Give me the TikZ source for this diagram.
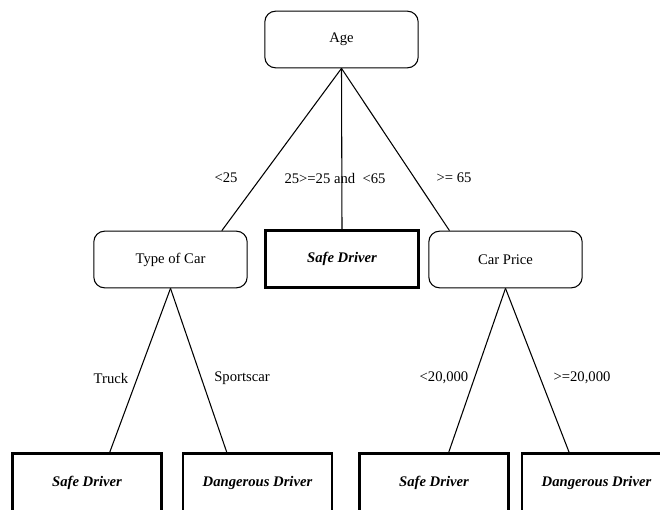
\documentclass[tikz,border=0pt]{standalone}
\usepackage{fontspec}
\setmainfont{Liberation Serif}
\usepackage{tikz}
\usetikzlibrary{positioning}

\begin{document}
\begin{tikzpicture}[x=0.75pt, y=-0.75pt, font=\fontsize{11}{13}\selectfont,
    decision/.style={draw, rounded corners=8pt, line width=0.8pt,
      minimum width=115pt, minimum height=42.5pt, inner sep=0pt},
    leaf/.style={draw, line width=1.8pt, minimum width=112pt,
      minimum height=44pt, inner sep=0pt,
      font=\fontsize{11}{13}\selectfont\bfseries\itshape},
    cond/.style={inner sep=0pt},
    branch/.style={line width=0.8pt}]
  \useasboundingbox (0,0) rectangle (660,510);
  \clip (0,0) rectangle (660,510);

  % decisions
  \node[decision] (age) at (341.5,39.5) {Age};
  \node[decision] (cartype) at (170.5,259.5) {Type of Car};
  \node[leaf, minimum width=115pt, minimum height=42.5pt] (midsafe) at (342,259) {Safe Driver};
  \node[decision] (carprice) at (505.5,259.5) {Car Price};

  % leaves
  \node[leaf] (safeA) at (87,483) {Safe Driver};
  \node[leaf] (dangerA) at (257.5,483) {Dangerous Driver};
  \node[leaf] (safeB) at (434,483) {Safe Driver};
  \node[leaf] (dangerB) at (596.5,483) {Dangerous Driver};

  % branches
  \draw[branch] (age.south) -- ([xshift=38.5pt]cartype.north);
  \draw[branch] (age.south) -- (midsafe.north);
  \draw[branch] (age.south) -- ([xshift=-42pt]carprice.north);
  \draw[branch] (cartype.south) -- ([xshift=17pt]safeA.north);
  \draw[branch] (cartype.south) -- ([xshift=-23pt]dangerA.north);
  \draw[branch] (carprice.south) -- ([xshift=11pt]safeB.north);
  \draw[branch] (carprice.south) -- ([xshift=-20.5pt]dangerB.north);

  % conditions
  \node[cond] (lt25) at (226,178) {<25};
  \node[cond] (mid) at (335,178) {25>=25 and\ \ <65};
  \node[cond] (ge65) at (454,178) {>= 65};
  \node[cond] (truck) at (111,378) {Truck};
  \node[cond] (sports) at (242,378) {Sportscar};
  \node[cond] (lt20k) at (444,378) {<20,000};
  \node[cond] (ge20k) at (582,378) {>=20,000};
\end{tikzpicture}
\end{document}
